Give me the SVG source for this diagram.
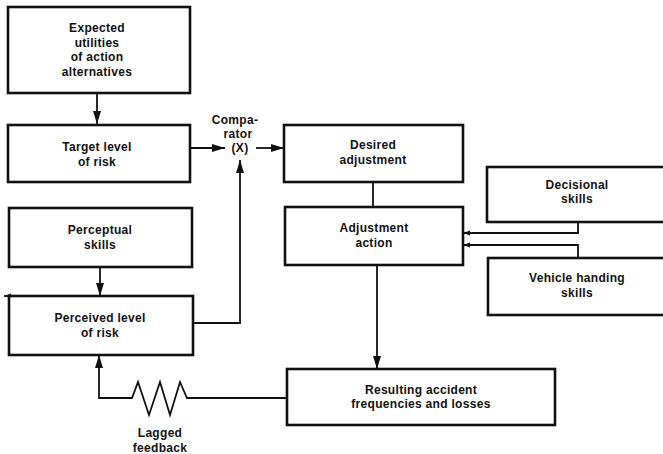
<svg xmlns="http://www.w3.org/2000/svg" width="663" height="454" viewBox="0 0 663 454">
<style>
.box{fill:#fff;stroke:#111;stroke-width:2.6}
.ln{fill:none;stroke:#111;stroke-width:1.8}
text{font-family:"Liberation Sans",Arial,sans-serif;font-weight:bold;font-size:12px;letter-spacing:0.3px;fill:#111;text-anchor:middle}
</style>
<defs>
<marker id="ah" markerUnits="userSpaceOnUse" markerWidth="14" markerHeight="10" refX="13" refY="5" orient="auto">
<path d="M0,1 L13,5 L0,9 Z" fill="#111"/>
</marker>
<marker id="sm" markerUnits="userSpaceOnUse" markerWidth="8" markerHeight="6" refX="7" refY="3" orient="auto">
<path d="M0,0.5 L7,3 L0,5.5 Z" fill="#111"/>
</marker>
</defs>
<rect width="663" height="454" fill="#fff"/>
<g id="connectors">
<line class="ln" x1="97" y1="93" x2="97" y2="124" marker-end="url(#ah)"/>
<line class="ln" x1="190" y1="148" x2="225" y2="148" marker-end="url(#ah)"/>
<line class="ln" x1="256" y1="148" x2="284" y2="148" marker-end="url(#ah)"/>
<polyline class="ln" points="193,323 240,323 240,160" marker-end="url(#ah)"/>
<line class="ln" x1="373" y1="182" x2="373" y2="207"/>
<line class="ln" x1="100" y1="267" x2="100" y2="296" marker-end="url(#ah)"/>
<line class="ln" x1="10" y1="296" x2="4" y2="296" marker-end="url(#sm)"/>
<line class="ln" x1="377" y1="265" x2="377" y2="369" marker-end="url(#ah)"/>
<polyline class="ln" points="578,222 578,233 463,233" marker-end="url(#sm)"/>
<polyline class="ln" points="578,258 578,245 463,245" marker-end="url(#sm)"/>
<polyline class="ln" points="287,398 187,398 180,382 170,415 160,382 149,415 138,382 132,398 99,398 99,355" marker-end="url(#ah)"/>
</g>
<g id="expected">
<rect class="box" x="8" y="7" width="182" height="86"/>
<text x="97" y="32">Expected</text>
<text x="97" y="47">utilities</text>
<text x="97" y="61">of action</text>
<text x="97" y="76">alternatives</text>
</g>
<g id="target">
<rect class="box" x="8" y="125" width="182" height="57"/>
<text x="97" y="151">Target level</text>
<text x="97" y="166">of risk</text>
</g>
<g id="comparator">
<text x="235" y="124">Compa-</text>
<text x="238" y="138">rator</text>
<text x="240" y="152">(X)</text>
</g>
<g id="desired">
<rect class="box" x="284" y="125" width="179" height="57"/>
<text x="373" y="149">Desired</text>
<text x="373" y="164">adjustment</text>
</g>
<g id="action">
<rect class="box" x="285" y="207" width="178" height="58"/>
<text x="374" y="232">Adjustment</text>
<text x="374" y="247">action</text>
</g>
<g id="decisional">
<rect class="box" x="487" y="167" width="180" height="55"/>
<text x="577" y="189">Decisional</text>
<text x="577" y="203">skills</text>
</g>
<g id="vehicle">
<rect class="box" x="488" y="258" width="180" height="57"/>
<text x="577" y="282">Vehicle handing</text>
<text x="577" y="297">skills</text>
</g>
<g id="perceptual">
<rect class="box" x="9" y="208" width="183" height="59"/>
<text x="100" y="234">Perceptual</text>
<text x="100" y="249">skills</text>
</g>
<g id="perceived">
<rect class="box" x="9" y="296" width="184" height="59"/>
<text x="100" y="322">Perceived level</text>
<text x="100" y="337">of risk</text>
</g>
<g id="resulting">
<rect class="box" x="287" y="369" width="268" height="56"/>
<text x="421" y="394">Resulting accident</text>
<text x="421" y="408">frequencies and losses</text>
</g>
<g id="lagged">
<text x="160" y="437">Lagged</text>
<text x="160" y="452">feedback</text>
</g>
</svg>
